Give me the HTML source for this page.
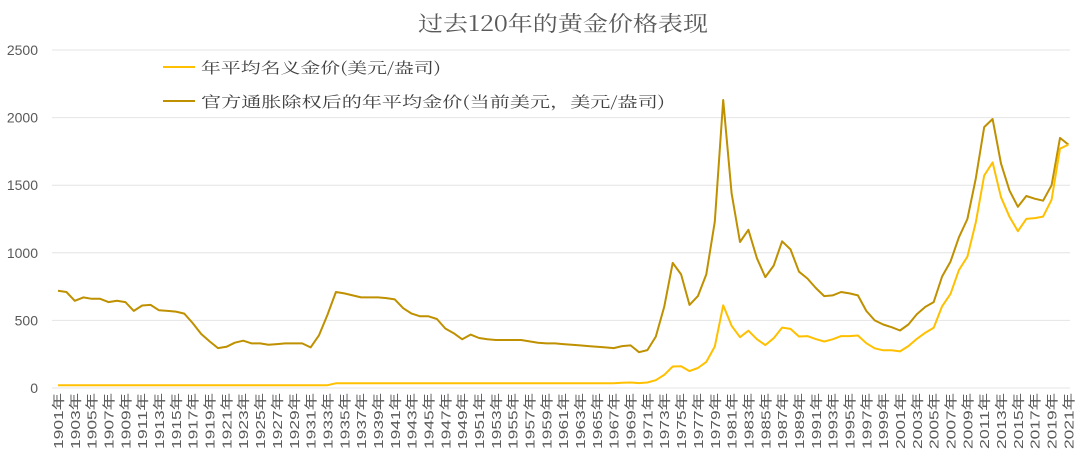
<!DOCTYPE html>
<html><head><meta charset="utf-8"><style>
html,body{margin:0;padding:0;background:#fff;}
svg{display:block;font-family:"Liberation Sans","Noto Sans CJK SC",sans-serif;}
</style></head><body>
<svg id="c" width="1080" height="455" viewBox="0 0 1080 455" xmlns="http://www.w3.org/2000/svg">
<text x="418" y="31" font-size="21" fill="#595959" textLength="290" lengthAdjust="spacingAndGlyphs" font-family="Noto Serif CJK SC, Liberation Serif, serif">过去120年的黄金价格表现</text>
<g id="grid" stroke="#e4e4e4" stroke-width="1"></g>
<g id="yl" font-size="14" fill="#595959" text-anchor="end"></g>
<g id="xl" font-size="13" fill="#595959"></g>
<line x1="163" y1="67" x2="195" y2="67" stroke="#FFC000" stroke-width="2"/>
<text x="201" y="73" font-size="15" fill="#404040" textLength="240" lengthAdjust="spacingAndGlyphs" font-family="Noto Serif CJK SC, Liberation Serif, serif">年平均名义金价(美元/盎司)</text>
<line x1="163" y1="101" x2="195" y2="101" stroke="#BF9000" stroke-width="2"/>
<text x="201" y="107" font-size="15" fill="#404040" textLength="464" lengthAdjust="spacingAndGlyphs" font-family="Noto Serif CJK SC, Liberation Serif, serif">官方通胀除权后的年平均金价(当前美元，美元/盎司)</text>
<polyline id="real" fill="none" stroke="#BF9000" stroke-width="2" stroke-linejoin="round"/>
<polyline id="nom" fill="none" stroke="#FFC000" stroke-width="2" stroke-linejoin="round"/>
</svg>
<script>
var y0=388,ppu=67.6/500;
function Y(v){return y0-v*ppu;}
function X(i){return 58+i*8.42;}
var ns="http://www.w3.org/2000/svg";
var g=document.getElementById('grid'),yl=document.getElementById('yl'),xl=document.getElementById('xl');
for(var v=0;v<=2500;v+=500){
 var l=document.createElementNS(ns,'line');l.setAttribute('x1',52);l.setAttribute('x2',1070);
 l.setAttribute('y1',Y(v));l.setAttribute('y2',Y(v));g.appendChild(l);
 var t=document.createElementNS(ns,'text');t.setAttribute('x',38);t.setAttribute('y',Y(v)+5);t.textContent=v;yl.appendChild(t);
}
for(var i=0;i<=120;i+=2){
 var t=document.createElementNS(ns,'text');var x=X(i)+5,y=393;
 t.setAttribute('transform','translate('+x+','+y+') rotate(-90)');t.setAttribute('text-anchor','end');
 t.setAttribute('textLength','56');t.setAttribute('lengthAdjust','spacingAndGlyphs');
 t.textContent=(1901+i)+'年';xl.appendChild(t);
}
var nom=[];
for(var y=1901;y<=1933;y++)nom.push(20.67);
for(var y=1934;y<=1967;y++)nom.push(35);
nom=nom.concat([39,41,36,41,58,97,159,161,125,148,193,307,612,460,376,424,361,317,368,447,437,381,384,362,344,360,384,384,388,331,294,279,279,271,310,363,409,445,604,696,872,972,1225,1572,1669,1411,1266,1160,1251,1257,1268,1393,1770,1800]);
var real=[720,710,645,670,660,660,635,645,635,570,610,615,575,570,565,550,480,400,345,295,305,335,350,330,330,320,325,330,330,330,300,390,540,710,700,685,670,670,670,665,655,590,550,530,530,510,440,405,360,395,370,360,355,355,355,355,345,335,330,330,325,320,315,310,305,300,295,310,315,265,280,380,600,925,840,615,680,840,1230,2130,1440,1080,1170,960,820,905,1085,1025,860,810,740,680,685,710,700,685,570,500,470,450,425,470,545,600,635,825,935,1115,1250,1550,1930,1990,1660,1460,1340,1420,1400,1385,1500,1850,1800];
function pts(a){return a.map(function(v,i){return X(i).toFixed(1)+','+Y(v).toFixed(1);}).join(' ');}
document.getElementById('nom').setAttribute('points',pts(nom));
document.getElementById('real').setAttribute('points',pts(real));
</script>
</body></html>
